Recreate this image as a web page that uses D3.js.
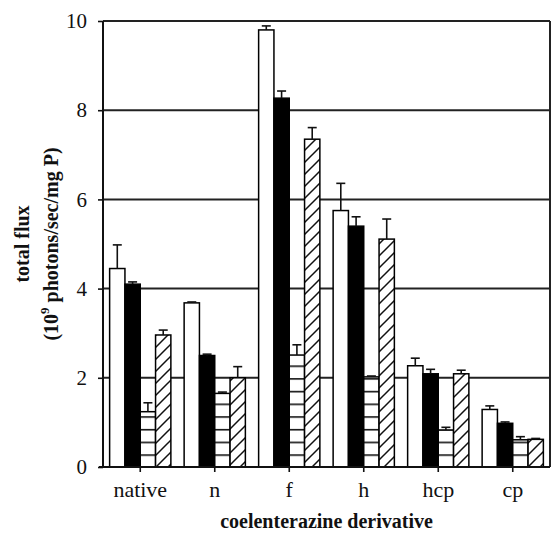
<!DOCTYPE html>
<html>
<head>
<meta charset="utf-8">
<script src="https://cdn.jsdelivr.net/npm/d3@7"></script>
<style>
  html, body { margin: 0; padding: 0; background: #fff; }
  svg { display: block; }
  text { font-family: "Liberation Serif", "Times New Roman", serif; fill: #111; }
</style>
</head>
<body>
<svg id="chart" width="556" height="537"></svg>
<script>
// ---- data ----
const categories = ["native", "n", "f", "h", "hcp", "cp"];
const seriesNames = ["white", "black", "horizontal", "hatched"];
const valuesWhite      = [4.45, 3.68, 9.80, 5.75, 2.27, 1.29];
const errorsWhite      = [0.53, 0.02, 0.09, 0.61, 0.17, 0.08];
const valuesBlack      = [4.10, 2.50, 8.27, 5.40, 2.09, 0.98];
const errorsBlack      = [0.05, 0.03, 0.16, 0.21, 0.10, 0.03];
const valuesHorizontal = [1.24, 1.65, 2.51, 2.02, 0.83, 0.61];
const errorsHorizontal = [0.20, 0.03, 0.23, 0.02, 0.06, 0.07];
const valuesHatched    = [2.96, 2.00, 7.35, 5.11, 2.09, 0.62];
const errorsHatched    = [0.11, 0.25, 0.26, 0.45, 0.08, 0.02];
const yTicks = [0, 2, 4, 6, 8, 10];

const seriesValues = [valuesWhite, valuesBlack, valuesHorizontal, valuesHatched];
const seriesErrors = [errorsWhite, errorsBlack, errorsHorizontal, errorsHatched];

const svg = d3.select("#chart");
const margin = { left: 103, right: 6, top: 21, bottom: 70 };
const W = 556, H = 537;
const x0 = margin.left, x1 = W - margin.right;
const yTop = margin.top, yBot = H - margin.bottom;

const x = d3.scaleBand().domain(categories).range([x0, x1]).padding(0);
const inner = d3.scaleBand().domain(seriesNames)
  .range([x.bandwidth() * 0.089, x.bandwidth() * (1 - 0.089)]).padding(0);
const y = d3.scaleLinear().domain([0, 10]).range([yBot, yTop]);

// patterns
const defs = svg.append("defs");
const ph = defs.append("pattern").attr("id", "horiz")
  .attr("patternUnits", "userSpaceOnUse").attr("width", 20).attr("height", 12.7)
  .attr("y", yBot);
ph.append("rect").attr("width", 20).attr("height", 12.7).attr("fill", "#fff");
ph.append("line").attr("x1", 0).attr("x2", 20).attr("y1", 0.8).attr("y2", 0.8)
  .attr("stroke", "#111").attr("stroke-width", 1.6);
const pd = defs.append("pattern").attr("id", "hatch")
  .attr("patternUnits", "userSpaceOnUse").attr("width", 12).attr("height", 12)
  .attr("y", yBot);
pd.append("rect").attr("width", 12).attr("height", 12).attr("fill", "#fff");
pd.append("path").attr("d", "M-3,3 L3,-3 M0,12 L12,0 M9,15 L15,9")
  .attr("stroke", "#111").attr("stroke-width", 1.5);

const fills = { white: "#fff", black: "#000", horizontal: "url(#horiz)", hatched: "url(#hatch)" };

// gridlines
svg.append("g").selectAll("line").data(yTicks.filter(d => d > 0)).join("line")
  .attr("x1", x0).attr("x2", x1)
  .attr("y1", d => y(d)).attr("y2", d => y(d))
  .attr("stroke", "#222").attr("stroke-width", 2);
// right border
svg.append("line").attr("x1", x1).attr("x2", x1).attr("y1", y(10)).attr("y2", yBot)
  .attr("stroke", "#222").attr("stroke-width", 2);

// bars
const rows = [];
categories.forEach((c, i) => {
  seriesNames.forEach((s, j) => {
    rows.push({ cat: c, ser: s, v: seriesValues[j][i], e: seriesErrors[j][i] });
  });
});
const gBars = svg.append("g");
gBars.selectAll("rect").data(rows).join("rect")
  .attr("x", d => x(d.cat) + inner(d.ser))
  .attr("y", d => y(d.v))
  .attr("width", inner.bandwidth())
  .attr("height", d => yBot - y(d.v))
  .attr("fill", d => fills[d.ser])
  .attr("stroke", "#000").attr("stroke-width", 1.5);

// error bars
const gErr = svg.append("g").attr("stroke", "#111").attr("stroke-width", 1.6);
rows.forEach(d => {
  const cx = x(d.cat) + inner(d.ser) + inner.bandwidth() / 2;
  gErr.append("line").attr("x1", cx).attr("x2", cx).attr("y1", y(d.v)).attr("y2", y(d.v + d.e));
  gErr.append("line").attr("x1", cx - 4.5).attr("x2", cx + 4.5).attr("y1", y(d.v + d.e)).attr("y2", y(d.v + d.e));
});

// axes
const yAxis = svg.append("g").attr("transform", `translate(${x0},0)`)
  .call(d3.axisLeft(y).tickValues(yTicks).tickSize(5).tickPadding(11).tickFormat(d3.format("d")));
yAxis.select(".domain").attr("stroke", "#111").attr("stroke-width", 2).attr("d", `M0,${yTop}V${yBot}`);
yAxis.selectAll(".tick line").attr("stroke", "#111").attr("stroke-width", 1.6);
yAxis.selectAll(".tick text").style("font-size", "21px").attr("fill", "#222");

const xAxis = svg.append("g").attr("transform", `translate(0,${yBot})`)
  .call(d3.axisBottom(x).tickSize(5).tickPadding(9));
xAxis.select(".domain").attr("stroke", "#111").attr("stroke-width", 2).attr("d", `M${x0 - 4},0H${x1}`);
xAxis.selectAll(".tick line").attr("stroke", "#111").attr("stroke-width", 1.6);
xAxis.selectAll(".tick text").style("font-size", "22px").attr("fill", "#222");

// axis titles
svg.append("text").attr("x", (x0 + x1) / 2).attr("y", 528)
  .attr("text-anchor", "middle").style("font-size", "20px").style("font-weight", "bold")
  .text("coelenterazine derivative");

const cy = (yTop + yBot) / 2;
svg.append("text").attr("transform", `translate(29,${cy}) rotate(-90)`)
  .attr("text-anchor", "middle").style("font-size", "20px").style("font-weight", "bold")
  .text("total flux");
const t2 = svg.append("text").attr("transform", `translate(58,${cy}) rotate(-90)`)
  .attr("text-anchor", "middle").style("font-size", "20px").style("font-weight", "bold");
t2.append("tspan").text("(10");
t2.append("tspan").attr("dy", -9).style("font-size", "13px").text("9");
t2.append("tspan").attr("dy", 9).text(" photons/sec/mg P)");
</script>
</body>
</html>
